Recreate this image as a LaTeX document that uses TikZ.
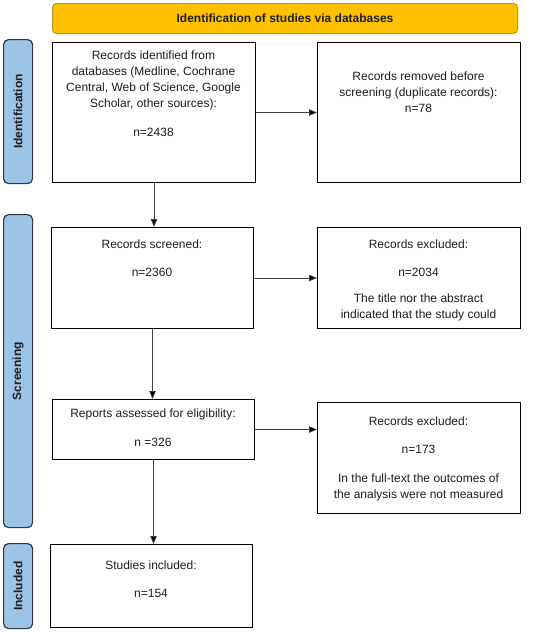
\documentclass[tikz,border=0pt]{standalone}
\usepackage{fontspec}
\setmainfont{Liberation Sans}
\usetikzlibrary{arrows.meta,calc}
\definecolor{bannerfill}{HTML}{FFC000}
\definecolor{bannerdraw}{HTML}{C8960A}
\definecolor{sidefill}{HTML}{9DC3E6}
\definecolor{sidedraw}{HTML}{2E3A46}
\definecolor{txtcol}{HTML}{1E1E1E}
\begin{document}
\begin{tikzpicture}[x=1pt,y=-1pt,
  box/.style={draw=black, line width=1pt, fill=white, inner sep=0pt, anchor=north west},
  txt/.style={align=center, anchor=north, inner sep=0pt, text=txtcol, font=\fontsize{12}{16}\selectfont},
  side/.style={draw=sidedraw, fill=sidefill, line width=1.2pt, rounded corners=5pt, inner sep=0pt, anchor=north west, minimum width=29pt},
  sidetxt/.style={rotate=90, font=\bfseries\fontsize{12}{14}\selectfont, text=txtcol},
  conn/.style={draw=black!75, line width=0.8pt, -{Triangle[length=8pt,width=6.5pt,fill=black]}}
]
\useasboundingbox (0,0) rectangle (550,632);
% banner
\node[draw=bannerdraw, fill=bannerfill, line width=1pt, rounded corners=4pt, anchor=north west, minimum width=465pt, minimum height=30pt, inner sep=0pt] (banner) at (52,3) {};
\node[font=\bfseries\fontsize{12}{14}\selectfont, text=txtcol] (bannertxt) at (banner.center) {Identification of studies via databases};
% side labels
\node[side, minimum height=144pt] (sid) at (3,39) {};
\node[sidetxt] (sidt) at (sid.center) {Identification};
\node[side, minimum height=313pt] (ssc) at (3,214) {};
\node[sidetxt] (ssct) at (ssc.center) {Screening};
\node[side, minimum height=85pt] (sin) at (3,543) {};
\node[sidetxt] (sint) at (sin.center) {Included};
% boxes
\node[box, minimum width=203pt, minimum height=140pt] (b1) at (52,42) {};
\node[box, minimum width=203pt, minimum height=140pt] (b2) at (317,42) {};
\node[box, minimum width=202pt, minimum height=101pt] (b3) at (51,227) {};
\node[box, minimum width=203pt, minimum height=101pt] (b4) at (317,227) {};
\node[box, minimum width=202pt, minimum height=60pt] (b5) at (52,399) {};
\node[box, minimum width=203pt, minimum height=111pt] (b6) at (317,402) {};
\node[box, minimum width=202pt, minimum height=83pt] (b7) at (50,544) {};
% texts
\node[txt] (t1) at (153.5,51) {Records identified from\\databases (Medline, Cochrane\\Central, Web of Science, Google\\Scholar, other sources):\\[13pt]n=2438};
\node[txt] (t2) at (418.5,72) {Records removed before\\screening (duplicate records):\\n=78};
\node[txt] (t3) at (152,240) {Records screened:\\[12pt]n=2360};
\node[txt] (t4) at (418.5,240) {Records excluded:\\[12pt]n=2034\\[10pt]The title nor the abstract\\indicated that the study could};
\node[txt] (t5) at (153,409) {Reports assessed for eligibility:\\[13pt]n =326};
\node[txt] (t6) at (418.5,417) {Records excluded:\\[12pt]n=173\\[13pt]In the full-text the outcomes of\\the analysis were not measured};
\node[txt] (t7) at (151,561) {Studies included:\\[12pt]n=154};
% connectors
\draw[conn] (b1.east) -- (b2.west);
\draw[conn] (b3.east) -- (b4.west);
\draw[conn] (b5.east) -- (b5.east -| b6.west);
\draw[conn] (b1.south) -- (b1.south |- b3.north);
\draw[conn] (b3.south) -- (b3.south |- b5.north);
\draw[conn] (b5.south) -- (b5.south |- b7.north);
\end{tikzpicture}
\end{document}
